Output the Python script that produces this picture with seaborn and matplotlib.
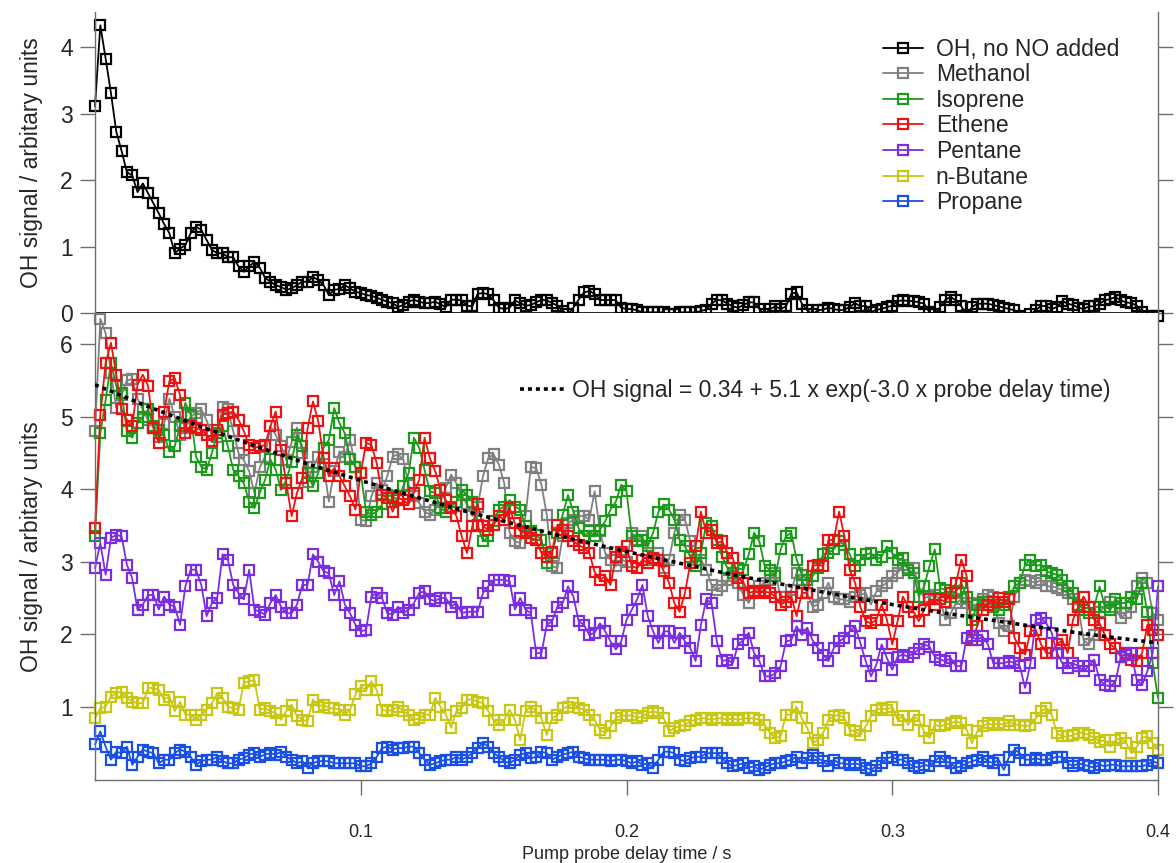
import numpy as np
import pandas as pd
import matplotlib
matplotlib.use("Agg")
import matplotlib.pyplot as plt
import seaborn as sns

# ---------------- data ----------------
n_points = 201
delay = np.round(np.arange(n_points) * 0.002, 3)   # pump-probe delay grid (s)

oh_no_no = [
    3.11, 4.33, 3.83, 3.31, 2.73, 2.44, 2.12, 2.07, 1.82, 1.95,
    1.80, 1.65, 1.50, 1.34, 1.20, 0.90, 0.97, 1.02, 1.20, 1.30,
    1.25, 1.10, 0.95, 0.90, 0.90, 0.84, 0.84, 0.70, 0.62, 0.70,
    0.77, 0.68, 0.53, 0.47, 0.42, 0.39, 0.35, 0.37, 0.42, 0.47,
    0.47, 0.54, 0.50, 0.42, 0.27, 0.35, 0.36, 0.42, 0.37, 0.32,
    0.30, 0.27, 0.26, 0.23, 0.20, 0.17, 0.15, 0.09, 0.12, 0.17,
    0.20, 0.17, 0.15, 0.15, 0.17,
    0.13, 0.09, 0.20, 0.20, 0.19,
    0.11, 0.10, 0.29, 0.30, 0.28, 0.19, 0.08, 0.06, 0.08, 0.19,
    0.15, 0.11, 0.12, 0.16, 0.20, 0.19, 0.15, 0.11, 0.03, -0.02,
    0.08, 0.20, 0.31, 0.33, 0.29, 0.20, 0.19, 0.20, 0.19, 0.08,
    0.06, 0.06, 0.04, 0.01, 0.01, 0.01, 0.01, 0.01, -0.02, -0.02,
    0.01, 0.01, 0.01, 0.01, 0.03, 0.05, 0.14, 0.20, 0.19, 0.14,
    0.10, 0.08, 0.12, 0.16, 0.16, 0.06, -0.02, 0.06, 0.10, 0.06,
    0.10,
    0.29, 0.31, 0.14, 0.04, -0.02, 0.04, 0.05, 0.08, 0.06, 0.04,
    0.05, 0.09, 0.15, 0.10, 0.11, 0.01, 0.05, 0.06, 0.09, 0.11,
    0.18, 0.19, 0.18, 0.18, 0.16, 0.14, 0.01, -0.02, 0.09, 0.20,
    0.24, 0.19, 0.10, -0.03, 0.09, 0.14, 0.14, 0.14, 0.12, 0.10,
    0.08, 0.06, 0.04, -0.04, -0.09, -0.02, 0.04, 0.11, 0.10, 0.06,
    0.09, 0.18, 0.14, 0.12, 0.08, 0.06, 0.10, 0.10, 0.14, 0.19,
    0.21, 0.24, 0.19, 0.16, 0.15, 0.11, 0.01, -0.04, -0.04, -0.04,
]

methanol = [
    4.80, 6.35, 6.15, 5.60, 5.12, 5.30, 5.50, 5.52, 5.25, 5.10,
    4.95, 4.85, 4.72, 4.90, 5.25, 5.00, 4.75, 4.85, 5.00, 5.05,
    5.10, 4.95, 4.75, 4.72, 5.14, 5.10, 4.80, 4.50, 4.40, 4.25,
    3.95, 4.30, 4.45, 4.87, 4.75, 4.60, 4.40, 4.65, 4.85, 4.50,
    4.10, 4.30, 4.45, 4.35, 3.83, 4.25, 4.52, 4.45, 4.68, 4.30,
    3.58, 3.56, 3.90, 4.08, 3.99, 4.18, 4.45, 4.48, 4.41, 4.06,
    3.90, 3.81, 3.69, 3.65, 3.72, 3.83, 4.02, 4.20, 4.08, 3.92,
    3.79, 3.63, 3.76, 4.18, 4.43, 4.48, 4.34, 4.08, 3.40, 3.28,
    3.26, 3.63, 4.31, 4.29, 4.06, 3.65, 2.94, 2.91, 3.35, 3.53,
    3.58, 3.63, 3.63, 3.58, 3.97, 3.42, 3.12, 3.03, 2.94, 3.03,
    3.00,
    3.40, 3.30, 3.35, 3.12, 3.03, 3.12, 2.91, 3.03, 3.40, 3.65,
    3.58, 3.28, 3.03, 3.03, 2.89, 2.68, 2.61, 2.66, 2.75, 2.80,
    2.71, 2.54, 2.43, 2.59, 2.66, 2.71, 2.75, 2.84, 2.52, 2.52,
    2.61, 2.84, 2.75, 2.57, 2.38, 2.41, 2.57, 2.71, 2.52, 2.48,
    2.48, 2.45, 2.52, 2.54, 2.57, 2.41, 2.59, 2.66, 2.71, 2.80,
    2.84,
    2.96, 2.91, 2.91, 2.66, 2.50, 2.52, 2.54, 2.48, 2.20, 2.29,
    2.43, 2.48, 2.43, 2.34, 2.43, 2.48, 2.54, 2.52, 2.15, 2.04,
    2.11, 2.52, 2.71, 2.75, 2.73, 2.71, 2.75, 2.66, 2.66, 2.64,
    2.61, 2.57, 2.48, 2.38, 1.92, 1.86, 1.99, 2.31, 2.38, 2.45,
    2.38, 2.22, 2.29, 2.38, 2.66, 2.77, 2.71, 2.29, 2.20,
]

isoprene = [
    3.35, 4.77, 5.23, 5.74, 5.42, 5.33, 4.80, 4.71, 4.91, 5.00,
    5.10, 4.87, 4.82, 4.75, 4.52, 4.59, 4.87, 5.19, 5.03, 4.45,
    4.31, 4.27, 4.50, 4.77, 4.87, 4.59, 4.27, 4.18, 4.08, 3.83,
    3.74, 3.95, 4.13, 4.41, 4.27, 3.99, 4.13, 4.38, 4.75, 4.59,
    4.22, 4.04, 4.22, 4.57, 4.68, 5.12, 4.91, 4.77, 4.41, 4.31,
    4.22, 3.69, 3.65, 3.69, 3.79, 3.92, 3.90, 3.85, 4.04, 4.22,
    4.71, 4.57, 4.27, 3.97, 3.95, 3.74, 3.69, 3.76, 3.83, 3.99,
    3.92, 3.83, 3.51, 3.28, 3.35, 3.56, 3.72, 3.76, 3.85, 3.76,
    3.72, 3.49, 3.42, 3.37, 3.30, 2.98, 3.12, 3.40, 3.65, 3.92,
    3.69, 3.46, 3.35, 3.42, 3.35, 3.44, 3.56, 3.72, 3.83, 4.06,
    3.97,
    3.35, 3.28, 3.30, 3.21, 3.40, 3.69, 3.79, 3.72, 3.58, 3.30,
    3.21, 3.07, 2.94, 3.12, 3.53, 3.49, 3.30, 3.07, 2.91, 2.84,
    2.91, 2.89, 3.10, 3.40, 3.28, 2.94, 2.89, 2.80, 3.17, 3.35,
    3.40, 3.03, 2.82, 2.75, 2.80, 2.91, 3.10, 3.12, 3.17, 3.28,
    3.23, 3.10, 2.94, 3.03, 3.10, 3.12, 3.03, 3.07, 3.21, 3.12,
    3.03,
    3.05, 2.89, 2.84, 2.52, 2.66, 2.94, 3.17, 2.64, 2.61, 2.52,
    2.59, 2.71, 2.52, 2.20, 2.41, 2.45, 2.45, 2.38, 2.34, 2.41,
    2.52, 2.66, 2.71, 2.96, 3.03, 2.94, 2.96, 2.87, 2.84, 2.82,
    2.75, 2.66, 2.57, 2.41, 2.34, 2.29, 2.38, 2.66, 2.38, 2.34,
    2.48, 2.43, 2.43, 2.52, 2.48, 2.71, 2.30, 1.60, 1.12,
]

ethene = [
    3.46, 5.03, 5.74, 6.02, 5.58, 5.10, 4.96, 4.87, 5.44, 5.58,
    5.42, 4.84, 4.64, 5.07, 5.49, 5.53, 5.30, 4.77, 4.87, 4.84,
    4.82, 4.75, 4.66, 4.82, 5.03, 5.05, 5.07, 4.96, 4.80, 4.61,
    4.57, 4.59, 4.61, 4.87, 5.07, 4.54, 4.08, 3.63, 3.95, 4.15,
    4.84, 5.21, 4.94, 4.43, 4.18, 4.29, 4.18, 4.04, 3.90, 3.72,
    4.22, 4.64, 4.61, 4.36, 3.92, 3.88, 3.69, 3.88, 3.85, 3.79,
    3.95, 4.13, 4.71, 4.43, 4.25, 3.99, 3.85, 3.74, 3.63, 3.35,
    3.12, 3.49, 3.79, 3.49, 3.44, 3.51, 3.63, 3.58, 3.74, 3.53,
    3.42, 3.40, 3.33, 3.30, 3.12, 3.07, 3.14, 3.51, 3.44, 3.35,
    3.28, 3.23, 3.19, 3.12, 2.86, 2.75, 2.80, 2.68, 3.07, 3.14,
    3.21,
    2.94, 2.91, 3.03, 2.98, 3.05, 3.03, 2.87, 2.71, 2.43, 2.31,
    2.57, 2.98, 3.21, 3.69, 3.40, 3.44, 3.26, 3.28, 3.12, 3.05,
    2.78, 2.71, 2.57, 2.59, 2.57, 2.59, 2.57, 2.52, 2.41, 2.45,
    2.52, 2.25, 2.57, 2.57, 2.94, 2.96, 2.94, 3.30, 3.30, 3.69,
    3.35, 2.89, 2.71, 2.38, 2.18, 2.15, 2.20, 2.41, 2.20, 1.86,
    2.18,
    2.52, 2.38, 2.31, 2.18, 2.34, 2.48, 2.41, 2.48, 2.45, 2.57,
    2.71, 3.03, 2.80, 1.92, 2.11, 2.34, 2.41, 2.45, 2.50, 2.45,
    2.48, 1.95, 1.81, 1.72, 2.04, 2.06, 1.86, 1.74, 1.74, 1.86,
    1.92, 1.74, 2.20, 2.38, 2.52, 2.38, 2.20, 2.15, 1.99, 1.86,
    1.81, 1.69, 1.74, 1.65, 1.63, 1.74, 2.13, 2.06, 1.99,
]

pentane = [
    2.91, 3.26, 2.82, 3.33, 3.37, 3.35, 2.96, 2.77, 2.34, 2.41,
    2.54, 2.54, 2.34, 2.52, 2.41, 2.38, 2.13, 2.66, 2.89, 2.89,
    2.68, 2.25, 2.43, 2.50, 3.10, 3.03, 2.68, 2.57, 2.48, 2.89,
    2.34, 2.31, 2.27, 2.43, 2.54, 2.38, 2.29, 2.29, 2.41, 2.68,
    2.68, 3.10, 3.00, 2.87, 2.84, 2.54, 2.73, 2.41, 2.29, 2.13,
    2.04,
    2.06, 2.52, 2.57, 2.50, 2.29, 2.27, 2.38, 2.29, 2.34, 2.43,
    2.57, 2.59, 2.48, 2.46, 2.50, 2.50, 2.38, 2.43, 2.29, 2.31,
    2.31, 2.31, 2.57, 2.66, 2.75, 2.75, 2.75, 2.73, 2.34, 2.50,
    2.34, 2.29, 1.74, 1.74, 2.13, 2.18, 2.38, 2.43, 2.66, 2.52,
    2.18, 2.13, 1.99, 2.02, 2.15, 2.04, 1.90, 1.79, 1.90, 2.20,
    2.34, 2.48, 2.68, 2.25, 2.04, 1.88, 2.04, 2.04, 1.88, 2.02,
    1.90, 1.81, 1.63, 2.13, 2.48, 2.43, 1.90, 1.63, 1.65, 1.60,
    1.86, 1.92, 2.02, 1.74, 1.63, 1.42, 1.42, 1.46, 1.56, 1.90,
    1.92, 2.11, 1.99, 2.09, 1.92, 1.81, 1.72, 1.63, 1.81, 1.90,
    1.95, 2.04, 2.11, 1.88, 1.63, 1.42, 1.58, 1.86, 1.67, 1.51, 1.69,
    1.72, 1.69, 1.74, 1.79, 1.86, 1.83, 1.69, 1.65, 1.63, 1.67,
    1.56, 1.56, 1.95, 1.97, 1.92, 1.97, 1.86, 1.60, 1.60, 1.60,
    1.63, 1.60, 1.56, 1.26, 1.60, 2.20, 2.22, 2.15, 2.02, 1.74,
    1.60, 1.53, 1.60, 1.56, 1.49, 1.56, 1.65, 1.37, 1.30, 1.28,
    1.35, 1.69, 1.72, 1.74, 1.37, 1.30, 1.49, 1.74, 2.66,
]

n_butane = [
    0.84, 0.98, 1.00, 1.14, 1.19, 1.21, 1.12, 1.07, 1.05, 1.05,
    1.26, 1.26, 1.23, 1.10, 1.14, 0.94, 1.07, 0.89, 0.89, 0.82,
    0.89, 0.96, 1.05, 1.19, 1.12, 1.00, 0.98, 0.96, 1.33, 1.35,
    1.37, 0.96, 0.98, 0.94, 0.91, 0.82, 0.94, 1.03, 0.87, 0.82,
    0.80, 1.10, 1.00, 1.03, 0.98, 0.98, 0.96, 0.89, 0.96, 1.17,
    1.28,
    1.23, 1.35, 1.23, 0.96, 0.94, 0.96, 1.00, 0.94, 0.89, 0.82,
    0.84, 0.89, 0.89, 1.12, 1.00, 0.89, 0.71, 0.94, 0.98, 1.10,
    1.10, 1.07, 1.05, 0.94, 0.82, 0.75, 0.82, 0.96, 0.82, 0.54,
    0.94, 1.00, 0.94, 0.84, 0.61, 0.84, 0.89, 0.98, 1.00, 1.05,
    0.98, 0.96, 0.89, 0.82, 0.68, 0.64, 0.73, 0.84, 0.89, 0.87,
    0.89, 0.84, 0.87, 0.91, 0.94, 0.91, 0.84, 0.66, 0.71, 0.73,
    0.75, 0.80, 0.82, 0.84, 0.84, 0.82, 0.84, 0.84, 0.82, 0.84,
    0.82, 0.84, 0.84, 0.84, 0.82, 0.75, 0.64, 0.57, 0.59, 0.89,
    0.89, 1.00, 0.84, 0.71, 0.50, 0.54, 0.64, 0.82, 0.87, 0.89,
    0.84, 0.68, 0.66, 0.61, 0.73, 0.87, 0.96, 0.98, 0.96, 1.00, 0.82,
    0.87, 0.75, 0.87, 0.82, 0.66, 0.57, 0.75, 0.73, 0.75, 0.77,
    0.80, 0.77, 0.68, 0.50, 0.66, 0.73, 0.77, 0.75, 0.77, 0.75,
    0.80, 0.75, 0.75, 0.73, 0.75, 0.84, 0.94, 0.98, 0.89, 0.64,
    0.59, 0.59, 0.61, 0.64, 0.64, 0.61, 0.57, 0.52, 0.54, 0.45,
    0.54, 0.57, 0.50, 0.36, 0.45, 0.57, 0.59, 0.50, 0.41,
]

propane = [
    0.48, 0.66, 0.45, 0.27, 0.38, 0.36, 0.45, 0.20, 0.31, 0.41,
    0.38, 0.36, 0.22, 0.27, 0.27, 0.36, 0.41, 0.38, 0.31, 0.20,
    0.25, 0.27, 0.27, 0.31, 0.25, 0.22, 0.22, 0.27, 0.29, 0.34,
    0.36, 0.31, 0.34, 0.36, 0.34, 0.38, 0.31, 0.27, 0.22, 0.25,
    0.16, 0.22, 0.25, 0.25, 0.25, 0.22, 0.22, 0.22, 0.22, 0.22,
    0.18,
    0.18, 0.22, 0.31, 0.43, 0.45, 0.41, 0.43, 0.43, 0.45, 0.45,
    0.36, 0.27, 0.20, 0.22, 0.25, 0.27, 0.27, 0.31, 0.27, 0.31,
    0.36, 0.43, 0.50, 0.45, 0.36, 0.31, 0.25, 0.22, 0.27, 0.34,
    0.36, 0.29, 0.31, 0.38, 0.36, 0.27, 0.31, 0.34, 0.36, 0.38,
    0.31, 0.29, 0.27, 0.27, 0.27, 0.27, 0.25, 0.27, 0.27, 0.25,
    0.22, 0.25, 0.20, 0.22, 0.16, 0.27, 0.38, 0.38, 0.36, 0.27,
    0.25, 0.29, 0.31, 0.31, 0.36, 0.36, 0.36, 0.29, 0.22, 0.18,
    0.20, 0.22, 0.16, 0.18, 0.13, 0.16, 0.20, 0.22, 0.22, 0.25,
    0.27, 0.31, 0.22, 0.29, 0.34, 0.29, 0.25, 0.18, 0.27, 0.22,
    0.22, 0.20, 0.22, 0.20, 0.16, 0.13, 0.18, 0.22, 0.29, 0.31, 0.27,
    0.27, 0.22, 0.18, 0.16, 0.20, 0.18, 0.25, 0.31, 0.25, 0.22,
    0.16, 0.18, 0.22, 0.25, 0.27, 0.31, 0.25, 0.22, 0.27, 0.13,
    0.31, 0.41, 0.36, 0.27, 0.27, 0.29, 0.27, 0.27, 0.29, 0.31,
    0.31, 0.22, 0.18, 0.22, 0.20, 0.18, 0.16, 0.20, 0.18, 0.20,
    0.20, 0.18, 0.18, 0.18, 0.18, 0.18, 0.20, 0.25, 0.22,
]

# fitted curve values (OH signal = 0.34 + 5.1 x exp(-3.0 x t)) as drawn
fit_delay = [0.00, 0.02, 0.04, 0.06, 0.08, 0.10, 0.12, 0.14, 0.16, 0.18, 0.20,
             0.22, 0.24, 0.26, 0.28, 0.30, 0.32, 0.34, 0.36, 0.38, 0.40]
fit_signal = [5.44, 5.14, 4.86, 4.60, 4.35, 4.12, 3.90, 3.69, 3.50, 3.31, 3.14,
              2.98, 2.82, 2.68, 2.54, 2.41, 2.29, 2.18, 2.07, 1.97, 1.88]

series_names = ["OH, no NO added", "Methanol", "Isoprene", "Ethene",
                "Pentane", "n-Butane", "Propane"]
series_colors = ["#000000", "#808080", "#1c9a1c", "#ee1111",
                 "#7a2ee0", "#c8c814", "#1a4fe6"]
fit_label = "OH signal = 0.34 + 5.1 x exp(-3.0 x probe delay time)"
x_ticks = [0.1, 0.2, 0.3, 0.4]
top_yticks = [0, 1, 2, 3, 4]
bottom_yticks = [1, 2, 3, 4, 5, 6]

all_series = [oh_no_no, methanol, isoprene, ethene, pentane, n_butane, propane]
for s in all_series:
    assert len(s) == n_points, len(s)

# ---------------- style ----------------
sns.set_style("ticks")
plt.rcParams["font.family"] = ["Liberation Sans", "DejaVu Sans"]
spine_col = "#6e6e6e"
FS = 16.5      # y labels, legends
FSX = 13       # x tick labels and x label

fig = plt.figure(figsize=(11.76, 8.63), dpi=100)
L, R = 95 / 1176, 1158 / 1176
ax_top = fig.add_axes([L, 1 - 313 / 863, R - L, (313 - 12) / 863])
ax_bot = fig.add_axes([L, 1 - 780 / 863, R - L, (780 - 313) / 863])

mk = dict(marker="s", markersize=7.3, markerfacecolor="none",
          markeredgewidth=1.6, linewidth=1.3, clip_on=False, legend=False)

# top panel
sns.lineplot(x=delay, y=oh_no_no, ax=ax_top, color=series_colors[0],
             markeredgecolor=series_colors[0], label=series_names[0], **mk)

# bottom panel (draw order: gray, green, red, purple, yellow, blue)
for name, vals, col in zip(series_names[1:], all_series[1:], series_colors[1:]):
    sns.lineplot(x=delay, y=vals, ax=ax_bot, color=col,
                 markeredgecolor=col, label=name, **mk)

sns.lineplot(x=fit_delay, y=fit_signal, ax=ax_bot, color="black",
             linewidth=2.6, linestyle=(0, (1.1, 1.1)), label=fit_label,
             legend=False, zorder=5)

for ax in (ax_top, ax_bot):
    ax.set_xlim(0, 0.4)
    for side in ("left", "right"):
        ax.spines[side].set_color(spine_col)
        ax.spines[side].set_linewidth(1.0)
    ax.spines["top"].set_visible(False)
    ax.tick_params(axis="y", direction="out", length=11, width=1.0,
                   color=spine_col, labelsize=FS, pad=5,
                   left=True, right=True, labelright=False)
    ax.set_ylabel("OH signal / arbitary units", fontsize=FS, labelpad=12)

ax_top.set_ylim(0, 4.53)
ax_top.set_yticks(top_yticks)
ax_top.spines["bottom"].set_visible(False)
ax_top.set_xticks([])
ax_top.axhline(0, color="black", linewidth=1.2, zorder=1)

ax_bot.set_ylim(-0.01, 6.43)
ax_bot.set_yticks(bottom_yticks)
ax_bot.spines["bottom"].set_color(spine_col)
ax_bot.spines["bottom"].set_linewidth(1.0)
ax_bot.set_xticks(x_ticks)
ax_bot.set_xticklabels([f"{t:.1f}" for t in x_ticks])
ax_bot.tick_params(axis="x", direction="out", length=11, width=1.0,
                   color=spine_col, labelsize=FSX, pad=21)
ax_bot.set_xlabel("Pump probe delay time / s", fontsize=FSX, labelpad=3)

# legends
h_top = ax_top.get_lines()[:1]
h_bot = [l for l in ax_bot.get_lines() if l.get_label() in series_names]
ax_top.legend(handles=h_top + h_bot, labels=series_names,
              loc="upper left", bbox_to_anchor=(0.741, 0.915),
              frameon=False, fontsize=FS, handlelength=1.75,
              handletextpad=0.57, labelspacing=0.115, borderpad=0,
              borderaxespad=0)
fit_line = [l for l in ax_bot.get_lines() if l.get_label() == fit_label]
ax_bot.legend(handles=fit_line, labels=[fit_label], loc="upper left",
              bbox_to_anchor=(0.40, 0.858), frameon=False, fontsize=FS,
              handlelength=1.96, handletextpad=0.3, borderpad=0,
              borderaxespad=0)

fig.savefig("out.png", dpi=100)
